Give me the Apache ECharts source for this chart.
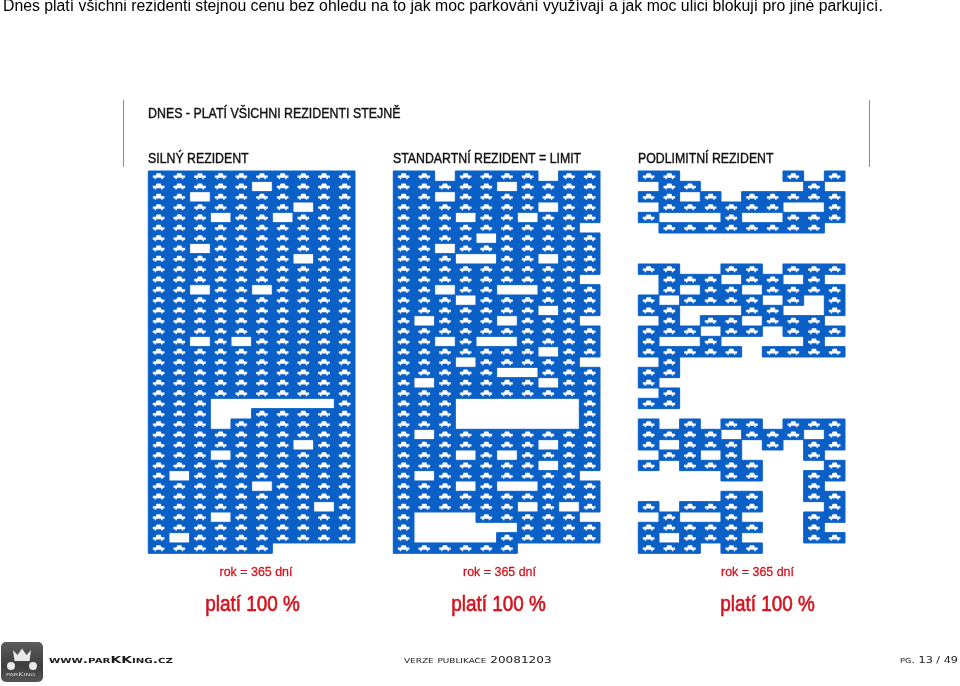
<!DOCTYPE html>
<html>
<head>
<meta charset="utf-8">
<title>parKKing</title>
<style>
  html, body { margin: 0; padding: 0; background: #fff; }
  #chart { width: 960px; height: 686px; }
</style>
</head>
<body>
<div id="chart"></div>
<script src="https://cdn.jsdelivr.net/npm/echarts@6/dist/echarts.min.js"></script>
<script>
// one string per row of the parking calendar: # = parked that day, . = free
const silnyRows = [
  '##########', '#####.####', '##.#######', '#######.##', '###.##.###',
  '##########', '##########', '##.#######', '#######.##', '##########',
  '##########', '##.##.####', '##########', '##########', '##########',
  '##########', '##.#.#####', '##########', '##########', '##########',
  '##########', '##########', '###......#', '###..#####', '###.######',
  '##########', '#######.##', '###.######', '##########', '#.########',
  '#####.####', '##########', '########.#', '###.######', '##########',
  '#.########', '######....'
]
const standardRows = [
  '##.####.##', '#####.####', '##.#######', '#######.##', '###.##.###',
  '#########.', '####.#####', '##.#######', '###..##.##', '##########',
  '#########.', '##.##..###', '###.######', '#######.##', '#.###.###.',
  '##########', '##.#..####', '#######.##', '###.#####.', '#####..###',
  '#.#####.##', '##########', '###......#', '###......#', '###......#',
  '#.########', '#######.##', '###.#.####', '#######.##', '#.#######.',
  '###.#..###', '##########', '######.#.#', '#...#####.', '#.....####',
  '#....#####', '######....'
]
const podlimitRows = [
  '##.....#.#', '.##.....#.', '##.#.#####', '.######..#', '#...#..###',
  '.########.', '..........', '..........', '..........', '##..##.###',
  '.###.##.#.', '.#.##.####', '#.####.#.#', '##...##..#', '.#.##.###.',
  '###.##.###', '#..#....#.', '#####.####', '.#........', '##........',
  '#.........', '.#........', '##........', '..........', '#.#.##.###',
  '####.###.#', '#.###.#.##', '.##.#...#.', '#.####...#', '....##..##',
  '........#.', '....##..##', '#.####...#', '.#..#...##', '######..#.',
  '#.###...##', '###.##....'
]
const dayColumns = ['1', '2', '3', '4', '5', '6', '7', '8', '9', '10']
const panelTitles = ['SILNÝ REZIDENT', 'STANDARTNÍ REZIDENT = LIMIT', 'PODLIMITNÍ REZIDENT']
const yearLabels = ['rok = 365 dní', 'rok = 365 dní', 'rok = 365 dní']
const priceLabels = ['platí 100 %', 'platí 100 %', 'platí 100 %']

const panelRows = [silnyRows, standardRows, podlimitRows]
const panelLeft = [148.3, 393.3, 638.3]
const yearCenter = [256, 499.5, 757.5]
const priceCenter = [252.5, 498.5, 767.5]
const BLUE = '#0a60c6'
const RED = '#d3121c'
const CAR = 'path://M4.5 0H9.5L10.5 2.8H14V5.6H11.8V7.2H10V5.6H4V7.2H2.2V5.6H0V2.8H3.5Z'

function cellsOf(rows) {
  let cells = []
  rows.forEach(function (row, r) {
    row.split('').forEach(function (c, i) {
      if (c === '#') cells.push([i, r])
    })
  })
  return cells
}

function renderCell(params, api) {
  let p = api.coord([api.value(0), api.value(1)])
  let s = api.size([1, 1])
  return {
    type: 'rect',
    shape: { x: p[0] - s[0] / 2, y: p[1] - s[1] / 2, width: s[0], height: s[1] },
    style: { fill: BLUE, stroke: BLUE, lineWidth: 1 }
  }
}

let grids = [], xAxes = [], yAxes = [], series = [], graphics = []

panelRows.forEach(function (rows, i) {
  let rowNames = rows.map(function (r, n) { return String(n + 1) })
  let cells = cellsOf(rows)
  grids.push({ left: panelLeft[i], top: 171, width: 206.7, height: 382.3 })
  xAxes.push({ gridIndex: i, type: 'category', data: dayColumns, show: false })
  yAxes.push({ gridIndex: i, type: 'category', data: rowNames, inverse: true, show: false })
  series.push({
    type: 'custom',
    xAxisIndex: i,
    yAxisIndex: i,
    data: cells,
    encode: { x: 0, y: 1 },
    renderItem: renderCell,
    silent: true,
    animation: false
  })
  series.push({
    type: 'scatter',
    xAxisIndex: i,
    yAxisIndex: i,
    data: cells,
    symbol: CAR,
    symbolSize: [11.6, 6],
    itemStyle: { color: '#fff', opacity: 1 },
    silent: true,
    animation: false,
    z: 5
  })
})

function label(text, x, y, size, extra, sx) {
  return {
    type: 'text',
    silent: true,
    x: x,
    y: y,
    scaleX: sx || 1,
    style: Object.assign({
      text: text,
      fill: '#111',
      font: size + 'px "Liberation Sans"',
      verticalAlign: 'middle'
    }, extra || {})
  }
}

// page title, cut by the top of the page like in the scan
graphics.push(label('Dnes platí všichni rezidenti stejnou cenu bez ohledu na to jak moc parkování využívají a jak moc ulici blokují pro jiné parkující.', 3, 6.5, 15.8, { fill: '#000' }))
graphics.push(label('DNES - PLATÍ VŠICHNI REZIDENTI STEJNĚ', 148, 114.5, 14, { stroke: '#111', lineWidth: 0.4 }, 0.885))

panelTitles.forEach(function (t, i) {
  graphics.push(label(t, panelLeft[i] - 0.3, 159.5, 14, { stroke: '#111', lineWidth: 0.4 }, 0.88))
  graphics.push(label(yearLabels[i], yearCenter[i], 572, 13.5, { fill: RED, align: 'center', stroke: RED, lineWidth: 0.3 }, 0.92))
  graphics.push(label(priceLabels[i], priceCenter[i], 605, 21.5, { fill: RED, align: 'center', stroke: RED, lineWidth: 0.6 }, 0.88))
})

// frame ticks either side of the heading
;[123, 869].forEach(function (x) {
  graphics.push({
    type: 'line',
    silent: true,
    shape: { x1: x + 0.5, y1: 100, x2: x + 0.5, y2: 167 },
    style: { stroke: '#8c8c8c', lineWidth: 1 }
  })
})

// footer
function wide(text, x, y, size, sx, weight) {
  return label(text, x, y, size, { fill: '#1a1a1a', font: 'small-caps ' + (weight || '') + ' ' + size + 'px "DejaVu Sans"' }, sx)
}
graphics.push(wide('www.parKKing.cz', 49, 661, 9.5, 1.46, 'bold'))
graphics.push(wide('verze publikace 20081203', 404, 661, 9.5, 1.27))
graphics.push(wide('pg. 13 / 49', 900, 661, 9.5, 1.18))

// logo
graphics.push({
  type: 'rect',
  silent: true,
  shape: { x: 1, y: 642, width: 42, height: 40, r: 5 },
  style: {
    fill: {
      type: 'linear', x: 0, y: 0, x2: 0, y2: 1,
      colorStops: [{ offset: 0, color: '#5c5c5c' }, { offset: 0.6, color: '#3e3e3e' }, { offset: 1, color: '#555' }]
    }
  }
})
graphics.push({
  type: 'polygon',
  silent: true,
  shape: { points: [[13, 650], [17.5, 655], [22, 648.5], [26.5, 655], [31, 650], [29.5, 661], [14.5, 661]] },
  style: { fill: '#e8e8e8' }
})
;[11, 33].forEach(function (x) {
  graphics.push({
    type: 'circle',
    silent: true,
    shape: { cx: x, cy: 666, r: 4 },
    style: { fill: '#e8e8e8' }
  })
})
graphics.push(label('parKing', 6, 675, 5, { fill: '#ddd', font: 'small-caps 5px "DejaVu Sans"' }, 1.6))

let chart = echarts.init(document.getElementById('chart'))
chart.setOption({
  animation: false,
  backgroundColor: '#fff',
  grid: grids,
  xAxis: xAxes,
  yAxis: yAxes,
  series: series,
  graphic: { elements: graphics }
})
</script>
</body>
</html>
